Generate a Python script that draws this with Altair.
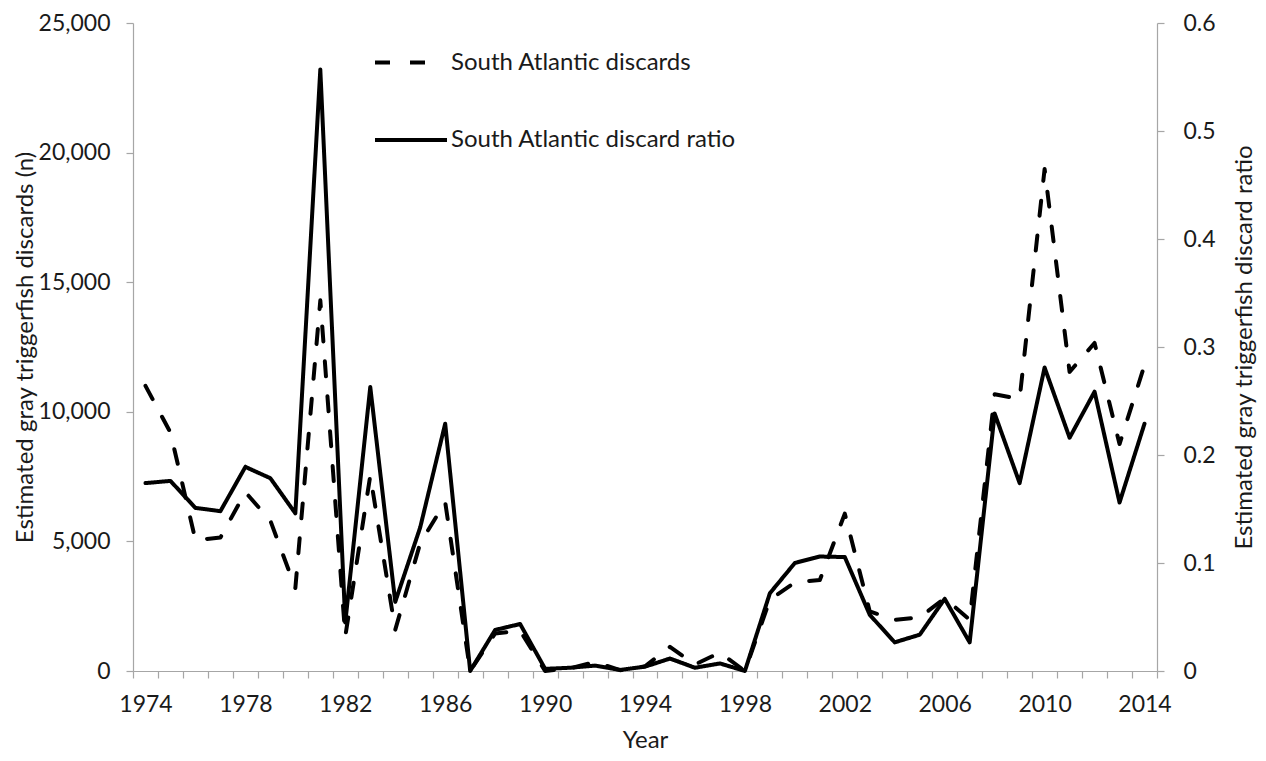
import altair as alt
import pandas as pd

years = list(range(1974, 2015))
discards = [11000, 9200, 5050, 5150, 6900, 5800, 3200,
            14300, 1335, 7540, 1590, 4930, 6515, 0,
            1450, 1550, 0, 100, 350, 30, 180,
            930, 250, 710, 0, 2750, 3420, 3510,
            6070, 2300, 1975, 2065, 2810, 1975, 10675,
            10500, 19370, 11540, 12655, 8755, 11800]
ratio = [0.174, 0.176, 0.151, 0.148, 0.189, 0.1785, 0.146,
         0.557, 0.045, 0.263, 0.064, 0.133, 0.229, 0.0,
         0.038, 0.0435, 0.002, 0.003, 0.005, 0.001, 0.004,
         0.0115, 0.003, 0.007, 0.0, 0.072, 0.100, 0.106,
         0.1055, 0.052, 0.0265, 0.0336, 0.0668, 0.0265, 0.2384,
         0.174, 0.281, 0.216, 0.2586, 0.156, 0.229]
series_names = ["South Atlantic discards", "South Atlantic discard ratio"]
left_ticks = [0, 5000, 10000, 15000, 20000, 25000]
right_ticks = [0, 0.1, 0.2, 0.3, 0.4, 0.5, 0.6]

df = pd.DataFrame({"year": years, "discards": discards, "ratio": ratio})
df_d = df.assign(series=series_names[0])
df_r = df.assign(series=series_names[1])

FONT = "Lato"
TXT = "#1a1a1a"
AX = "#a6a6a6"

W, H = 1024, 648
x_ticks = [y - 0.5 for y in years] + [years[-1] + 0.5]
band = W / len(years)

x_enc = alt.X(
    "year:Q",
    scale=alt.Scale(domain=[years[0] - 0.5, years[-1] + 0.5], nice=False, zero=False),
    axis=alt.Axis(
        values=x_ticks,
        labelExpr="((datum.value + 0.5 - 1974) % 4 == 0 && datum.value < 2014) ? format(datum.value + 0.5, 'd') : ''",
        labelOffset=band / 2,
        labelFlush=False,
        labelOverlap=False,
        labelPadding=15,
        title="Year",
        titleY=69,
        titleBaseline="middle",
    ),
)

line_kw = dict(color="black", strokeWidth=4, strokeCap="round", strokeJoin="round")

left = alt.Chart(df_d).mark_line(**line_kw).encode(
    x=x_enc,
    y=alt.Y(
        "discards:Q",
        scale=alt.Scale(domain=[0, 25000], nice=False),
        axis=alt.Axis(
            orient="left",
            values=left_ticks,
            format=",.0f",
            labelPadding=16,
            title="Estimated gray triggerfish discards (n)",
            titleAngle=270,
            titleX=-108,
            titleY=H / 2,
            titleBaseline="middle",
            titleAlign="center",
        ),
    ),
    strokeDash=alt.StrokeDash(
        "series:N",
        scale=alt.Scale(domain=[series_names[0]], range=[[15, 20]]),
        legend=alt.Legend(
            orient="none", legendX=240, legendY=10, title=None,
            symbolType="stroke", symbolSize=55 * 55, symbolStrokeWidth=4,
            symbolStrokeColor="black", labelOffset=19, padding=0, labelLimit=0,
            labelFont=FONT, labelFontSize=24, labelColor=TXT,
        ),
    ),
)

right = alt.Chart(df_r).mark_line(**line_kw).encode(
    x=x_enc,
    y=alt.Y(
        "ratio:Q",
        scale=alt.Scale(domain=[0, 0.6], nice=False),
        axis=alt.Axis(
            orient="right",
            values=right_ticks,
            format=".1~f",
            labelPadding=19,
            title="Estimated gray triggerfish discard ratio",
            titleAngle=270,
            titleX=87,
            titleY=H / 2,
            titleBaseline="middle",
            titleAlign="center",
        ),
    ),
    strokeDash=alt.StrokeDash(
        "series:N",
        scale=alt.Scale(domain=[series_names[1]], range=[[1, 0]]),
        legend=alt.Legend(
            orient="none", legendX=240, legendY=79, title=None,
            symbolType="stroke", symbolSize=72 * 72, symbolStrokeWidth=4,
            symbolStrokeColor="black", labelOffset=2, padding=0, labelLimit=0,
            labelFont=FONT, labelFontSize=24, labelColor=TXT,
        ),
    ),
)

chart = (
    alt.layer(left, right)
    .resolve_scale(y="independent", strokeDash="independent")
    .properties(
        width=W,
        height=H,
        autosize=alt.AutoSizeParams(type="none"),
        padding={"left": 125, "top": 15, "right": 101, "bottom": 82},
    )
    .configure_view(stroke=None)
    .configure_axis(
        grid=False,
        domainColor=AX,
        tickColor=AX,
        tickSize=7,
        domainWidth=1.2,
        tickWidth=1.2,
        labelFont=FONT,
        labelFontSize=23,
        labelColor=TXT,
        titleFont=FONT,
        titleFontSize=24,
        titleFontWeight="normal",
        titleColor=TXT,
    )
)

chart.save("out.html", embed_options={"renderer": "svg", "actions": False})
